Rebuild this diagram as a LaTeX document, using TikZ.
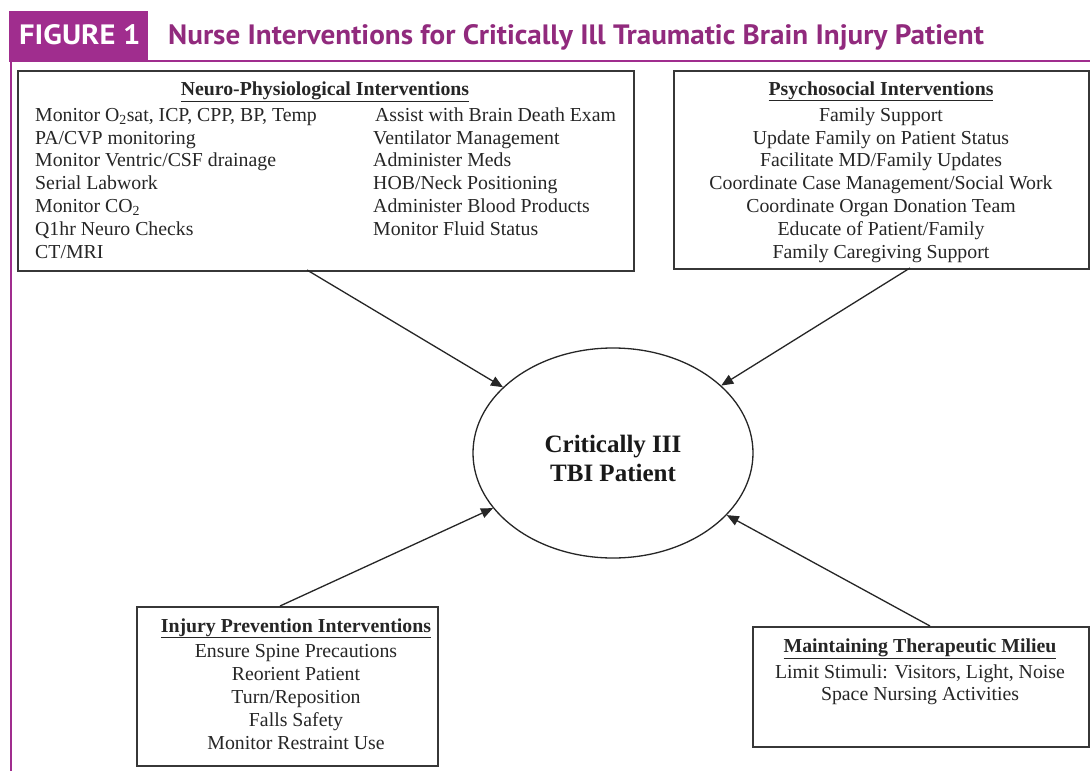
\documentclass[tikz,border=0pt]{standalone}
\usepackage{fontspec}
\setmainfont{Liberation Serif}
\newfontfamily\titlefont{PT Sans}
\usetikzlibrary{shapes.geometric,arrows.meta}
\definecolor{figmag}{RGB}{160,45,142}
\definecolor{titlemag}{RGB}{145,42,125}
\definecolor{boxgray}{RGB}{55,55,55}
\begin{document}
\begin{tikzpicture}[x=1pt,y=-1pt,
  box/.style={draw=boxgray, line width=1.8pt, inner sep=0pt, anchor=north west, fill=white},
  txt/.style={font=\fontsize{19.8}{23}\selectfont, inner sep=0pt, text=black!85},
  lefttxt/.style={txt, anchor=base west},
  ctxt/.style={txt, anchor=base},
  head/.style={txt, anchor=base, font=\fontsize{19.8}{23}\selectfont\bfseries},
  conn/.style={draw=black!85, line width=1.3pt, -{Triangle[length=12pt,width=10pt]}},
  magline/.style={draw=figmag, line width=2.5pt}]
\useasboundingbox (0,0) rectangle (1090,771);
\fill[white] (0,0) rectangle (1090,771);

% header
\node[fill=figmag, anchor=north west, minimum width=139pt, minimum height=50pt, inner sep=0pt] (hdr) at (9,11) {};
\node[anchor=base west, inner sep=0pt, text=white, font=\fontsize{28}{30}\selectfont\titlefont\bfseries, xscale=1.09] (fig) at (19,44) {FIGURE 1};
\node[anchor=base west, inner sep=0pt, text=titlemag, font=\fontsize{28}{30}\selectfont\titlefont\bfseries, xscale=1.04] (title) at (168,44) {Nurse Interventions for Critically Ill Traumatic Brain Injury Patient};
\coordinate (hl) at (9,61);
\coordinate (hr) at (1090,61);
\coordinate (vt) at (11,61);
\coordinate (vb) at (11,771);
\draw[magline] (hl) -- (hr);
\draw[magline] (vt) -- (vb);

% boxes
\node[box, minimum width=616pt, minimum height=200pt] (neuro) at (17,70) {};
\node[box, minimum width=415pt, minimum height=198pt] (psych) at (673,70) {};
\node[box, minimum width=301pt, minimum height=159pt] (injury) at (136,606) {};
\node[box, minimum width=336pt, minimum height=120pt] (milieu) at (752,626) {};
\node[draw=black!85, line width=1.3pt, ellipse, minimum width=280pt, minimum height=210pt, inner sep=0pt] (tbi) at (613,453) {};

% neuro text
\node[head] (nh) at (325,95) {\underline{Neuro-Physiological Interventions}};
\node[lefttxt] (n1) at (35,121) {Monitor O\textsubscript{2}sat, ICP, CPP, BP, Temp};
\node[lefttxt] (n2) at (35,144) {PA/CVP monitoring};
\node[lefttxt] (n3) at (35,166) {Monitor Ventric/CSF drainage};
\node[lefttxt] (n4) at (35,189) {Serial Labwork};
\node[lefttxt] (n5) at (35,212) {Monitor CO\textsubscript{2}};
\node[lefttxt] (n6) at (35,235) {Q1hr Neuro Checks};
\node[lefttxt] (n7) at (35,258) {CT/MRI};
\node[lefttxt] (m1) at (375,121) {Assist with Brain Death Exam};
\node[lefttxt] (m2) at (373,144) {Ventilator Management};
\node[lefttxt] (m3) at (373,166) {Administer Meds};
\node[lefttxt] (m4) at (373,189) {HOB/Neck Positioning};
\node[lefttxt] (m5) at (373,212) {Administer Blood Products};
\node[lefttxt] (m6) at (373,235) {Monitor Fluid Status};

% psychosocial text
\node[head] (ph) at (881,95) {\underline{Psychosocial Interventions}};
\node[ctxt] (p1) at (881,121) {Family Support};
\node[ctxt] (p2) at (881,144) {Update Family on Patient Status};
\node[ctxt] (p3) at (881,166) {Facilitate MD/Family Updates};
\node[ctxt] (p4) at (881,189) {Coordinate Case Management/Social Work};
\node[ctxt] (p5) at (881,212) {Coordinate Organ Donation Team};
\node[ctxt] (p6) at (881,235) {Educate of Patient/Family};
\node[ctxt] (p7) at (881,258) {Family Caregiving Support};

% injury text
\node[head] (ih) at (296,632) {\underline{Injury Prevention Interventions}};
\node[ctxt] (i1) at (296,657) {Ensure Spine Precautions};
\node[ctxt] (i2) at (296,680) {Reorient Patient};
\node[ctxt] (i3) at (296,703) {Turn/Reposition};
\node[ctxt] (i4) at (296,726) {Falls Safety};
\node[ctxt] (i5) at (296,749) {Monitor Restraint Use};

% milieu text
\node[head] (mh) at (920,652) {\underline{Maintaining Therapeutic Milieu}};
\node[ctxt] (l1) at (920,678) {Limit Stimuli: Visitors, Light, Noise};
\node[ctxt] (l2) at (920,700) {Space Nursing Activities};

% center text
\node[anchor=base, inner sep=0pt, font=\fontsize{25}{29}\selectfont\bfseries, text=black!90] (c1) at (613,452) {Critically III};
\node[anchor=base, inner sep=0pt, font=\fontsize{25}{29}\selectfont\bfseries, text=black!90] (c2) at (613,481) {TBI Patient};

% connectors
\coordinate (sn) at (307,270);
\coordinate (sp) at (910,268);
\coordinate (si) at (280,606);
\coordinate (sm) at (930,626);
\draw[conn] (sn) -- (tbi);
\draw[conn] (sp) -- (tbi);
\draw[conn] (si) -- (tbi);
\draw[conn] (sm) -- (tbi);
\end{tikzpicture}
\end{document}
